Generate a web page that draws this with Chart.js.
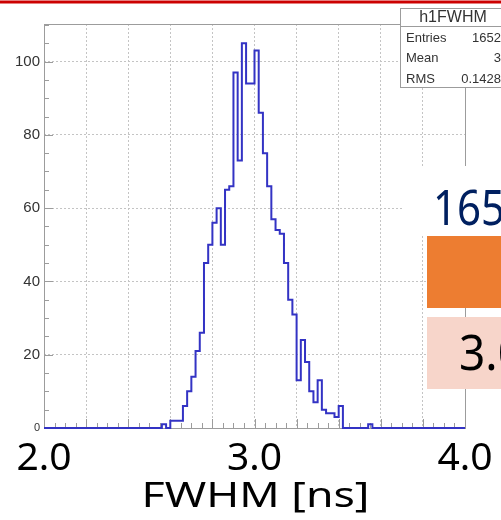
<!DOCTYPE html>
<html>
<head>
<meta charset="utf-8">
<script src="https://cdn.jsdelivr.net/npm/chart.js@4/dist/chart.umd.min.js"></script>
<style>
  html, body { margin: 0; padding: 0; background: #fff; }
  #wrap { width: 501px; height: 520px; position: relative; }
</style>
</head>
<body>
<div id="wrap"><canvas id="chart" width="501" height="520"></canvas></div>
<script>
  // h1FWHM: 100 bins between 2.0 and 4.0 ns
  const binLow = 2.0;
  const binWidth = 0.02;
  const counts = [
    0, 0, 0, 0, 0, 0, 0, 0, 0, 0,          // 2.00
    0, 0, 0, 0, 0, 0, 0, 0, 0, 0,          // 2.20
    0, 0, 0, 0, 0, 0, 0, 0, 0, 1,          // 2.40
    0, 2, 2, 2, 6, 10, 14, 21, 26, 45,     // 2.60
    50, 56, 60, 50, 65, 66, 97, 73, 105, 94, // 2.80
    94, 103, 86, 75, 66, 57, 54, 53, 45, 35, // 3.00
    31, 13, 24, 18, 10, 7, 13, 5, 4, 4,    // 3.20
    3, 6, 0, 0, 0, 0, 0, 0, 1, 0,          // 3.40
    0, 0, 0, 0, 0, 0, 0, 0, 0, 0,          // 3.60
    0, 0, 0, 0, 0, 0, 0, 0, 0, 0           // 3.80
  ];
  const xLabels = [2.0, 3.0, 4.0];
  const yLabels = [0, 20, 40, 60, 80, 100];
  const xTitle = 'FWHM [ns]';
  const statTitle = 'h1FWHM';
  const statNames = ['Entries', 'Mean', 'RMS'];
  const statValues = ['1652', '3', '0.1428'];
  const slideEntries = '165';
  const slideMean = '3.0';

  const points = counts.map((c, i) => ({ x: binLow + i * binWidth, y: c }));
  points.push({ x: binLow + counts.length * binWidth, y: 0 });

  const frameColor = '#9c9c9c';

  // draw text squeezed or stretched horizontally
  function fitText(ctx, text, x, y, font, color, sx) {
    ctx.save();
    ctx.font = font;
    ctx.fillStyle = color;
    ctx.textAlign = 'left';
    ctx.textBaseline = 'alphabetic';
    ctx.translate(x, y);
    ctx.scale(sx, 1);
    ctx.fillText(text, 0, 0);
    ctx.restore();
  }

  // ROOT style frame with inward ticks, drawn under the histogram line
  const framePlugin = {
    id: 'frame',
    beforeDatasetsDraw(chart) {
      const { ctx, chartArea: a, scales: { x, y } } = chart;
      ctx.save();
      ctx.strokeStyle = frameColor;
      ctx.lineWidth = 1;
      ctx.strokeRect(a.left + 0.5, a.top + 0.5, a.right - a.left, a.bottom - a.top);
      ctx.beginPath();
      for (let v = 0; v <= 110; v += 5) {
        const py = Math.round(y.getPixelForValue(v)) + 0.5;
        const len = v % 20 === 0 ? 9 : 5;
        ctx.moveTo(a.left, py);
        ctx.lineTo(a.left + len, py);
      }
      for (let i = 0; i <= 40; i++) {
        const px = Math.round(x.getPixelForValue(2 + i * 0.05)) + 0.5;
        const len = i % 4 === 0 ? 9 : 5;
        ctx.moveTo(px, a.bottom);
        ctx.lineTo(px, a.bottom - len);
      }
      ctx.stroke();
      ctx.restore();
    },
    afterDraw(chart) {
      const { ctx, scales: { x } } = chart;
      ctx.save();
      // stats box
      ctx.fillStyle = '#fff';
      ctx.fillRect(400.5, 8.5, 110, 79);
      ctx.strokeStyle = frameColor;
      ctx.strokeRect(400.5, 8.5, 110, 79);
      ctx.beginPath();
      ctx.moveTo(400.5, 26.5);
      ctx.lineTo(501, 26.5);
      ctx.stroke();
      ctx.fillStyle = '#333';
      ctx.textBaseline = 'middle';
      ctx.textAlign = 'center';
      ctx.font = '16px "Liberation Sans"';
      ctx.fillText(statTitle, 453, 18);
      ctx.font = '13px "Liberation Sans"';
      statNames.forEach((name, i) => {
        const ty = 38 + i * 20.5;
        ctx.textAlign = 'left';
        ctx.fillText(name, 406, ty);
        ctx.textAlign = 'right';
        ctx.fillText(statValues[i], 501, ty);
      });

      // slide overlay
      ctx.fillStyle = '#fff';
      ctx.fillRect(402, 166, 99, 70);
      ctx.fillStyle = '#ED7D31';
      ctx.fillRect(427, 236, 74, 72);
      ctx.fillStyle = '#F7D5CA';
      ctx.fillRect(427, 317, 74, 72);
      fitText(ctx, slideEntries, 433, 225, '50px "Noto Sans"', '#002060', 0.84);
      fitText(ctx, slideMean, 459, 370, '50px "Noto Sans"', '#000', 0.92);

      // axis title, stretched like on the slide
      ctx.font = '35px "Noto Sans"';
      const w = ctx.measureText(xTitle).width;
      const sx = 228 / w;
      const cx = x.getPixelForValue(3.0) + 1;
      fitText(ctx, xTitle, cx - 114, 507, '35px "Noto Sans"', '#000', sx);

      // red rule at the top
      ctx.fillStyle = '#cc0000';
      ctx.fillRect(0, 0.5, 501, 3);
      ctx.restore();
    }
  };

  new Chart(document.getElementById('chart').getContext('2d'), {
    type: 'line',
    data: {
      datasets: [{
        data: points,
        stepped: 'after',
        borderColor: '#3333c4',
        borderWidth: 2,
        pointRadius: 0,
        fill: false,
        clip: 4,
      }]
    },
    options: {
      responsive: false,
      animation: false,
      events: [],
      layout: { padding: { top: 24, right: 36, left: 0, bottom: 0 } },
      plugins: {
        legend: { display: false },
        tooltip: { enabled: false },
      },
      scales: {
        x: {
          type: 'linear',
          min: 2,
          max: 4,
          afterFit: (scale) => { scale.height = 92; },
          afterBuildTicks: (scale) => {
            scale.ticks = [];
            for (let i = 0; i <= 10; i++) scale.ticks.push({ value: 2 + i * 0.2 });
          },
          ticks: {
            autoSkip: false,
            maxRotation: 0,
            padding: 7,
            color: '#000',
            font: { family: 'Noto Sans', size: 39 },
            callback: (v) => {
              const hit = xLabels.find(l => Math.abs(l - v) < 1e-6);
              return hit !== undefined ? hit.toFixed(1) : '';
            },
          },
          grid: { color: '#c4c4c4', lineWidth: 1, drawTicks: false },
          border: { display: false, dash: [2, 2] },
        },
        y: {
          type: 'linear',
          min: 0,
          max: 110.25,
          afterFit: (scale) => { scale.width = 44; },
          afterBuildTicks: (scale) => {
            scale.ticks = yLabels.map(v => ({ value: v }));
          },
          ticks: {
            padding: 4,
            color: '#333',
            font: (c) => ({ family: 'Liberation Sans', size: c.tick && c.tick.value === 0 ? 11 : 15 }),
          },
          grid: { color: '#c4c4c4', lineWidth: 1, drawTicks: false },
          border: { display: false, dash: [2, 2] },
        },
      },
    },
    plugins: [framePlugin],
  });
</script>
</body>
</html>
